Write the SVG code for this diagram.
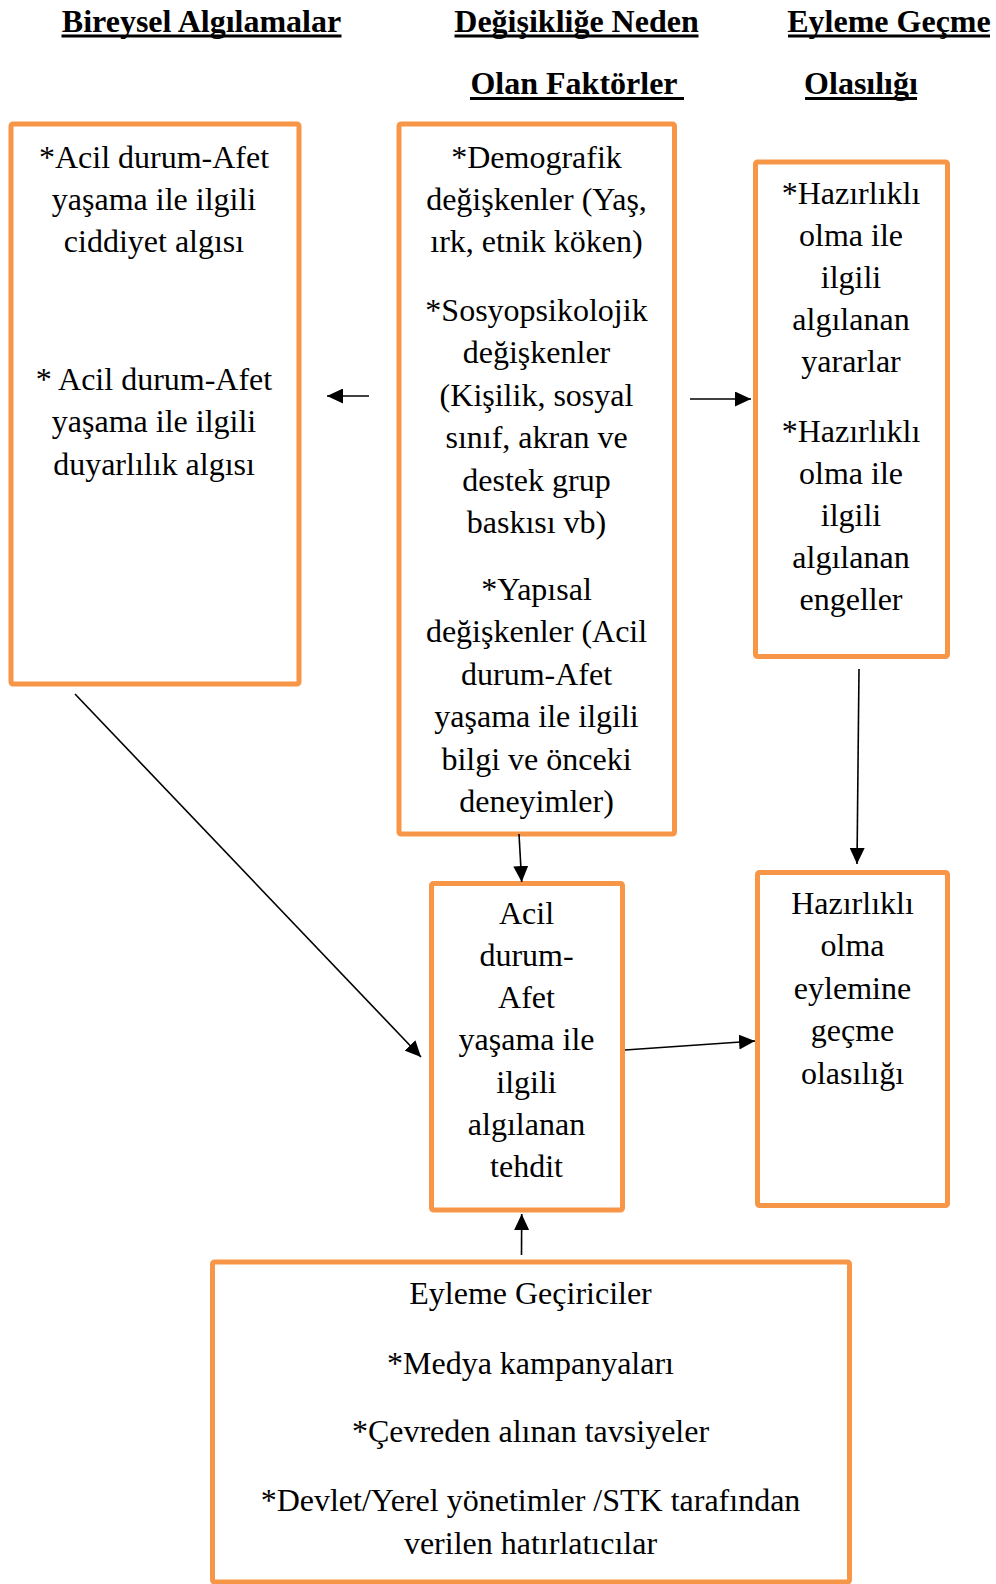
<svg xmlns="http://www.w3.org/2000/svg" width="996" height="1584" viewBox="0 0 996 1584">
  <style>
    .box { fill: #ffffff; stroke: #F79646; stroke-width: 5; }
    .t { font-family: "Liberation Serif", "Times New Roman", serif; font-size: 32px; fill: #000000; text-anchor: middle; }
    .h { font-family: "Liberation Serif", "Times New Roman", serif; font-size: 32px; font-weight: bold; fill: #000000; text-anchor: middle; }
    .ul { fill: #000000; }
    .conn { stroke: #000000; stroke-width: 1.6; fill: none; marker-end: url(#arrow); }
  </style>
  <defs>
    <marker id="arrow" markerUnits="userSpaceOnUse" markerWidth="16" markerHeight="15" refX="16" refY="7.5" orient="auto">
      <path d="M0,0 L16,7.5 L0,15 Z" fill="#000000"/>
    </marker>
  </defs>
  <rect width="996" height="1584" fill="#ffffff"/>

  <!-- column headings -->
  <g id="headings">
    <text class="h" x="201.5" y="31.5">Bireysel Algılamalar</text>
    <rect class="ul" x="61.5" y="34.5" width="280" height="3"/>
    <text class="h" x="576.5" y="31.5">Değişikliğe Neden</text>
    <rect class="ul" x="454.5" y="34.5" width="244" height="3"/>
    <text class="h" x="889" y="31.5">Eyleme Geçme</text>
    <rect class="ul" x="788" y="34.5" width="202" height="3"/>
    <text class="h" x="574" y="94">Olan Faktörler</text>
    <rect class="ul" x="470" y="97" width="214" height="3"/>
    <text class="h" x="861" y="94">Olasılığı</text>
    <rect class="ul" x="805" y="97" width="112" height="3"/>
  </g>

  <!-- individual perceptions -->
  <g id="node-perceptions">
    <rect class="box" x="11" y="124" width="288" height="560" rx="2"/>
    <text class="t" x="154" y="168">*Acil durum-Afet</text>
    <text class="t" x="154" y="210">yaşama ile ilgili</text>
    <text class="t" x="154" y="252">ciddiyet algısı</text>
    <text class="t" x="154" y="390">* Acil durum-Afet</text>
    <text class="t" x="154" y="432">yaşama ile ilgili</text>
    <text class="t" x="154" y="475">duyarlılık algısı</text>
  </g>

  <!-- modifying factors -->
  <g id="node-factors">
    <rect class="box" x="399" y="124" width="275.5" height="710" rx="2"/>
    <text class="t" x="536.5" y="168">*Demografik</text>
    <text class="t" x="536.5" y="210">değişkenler (Yaş,</text>
    <text class="t" x="536.5" y="252">ırk, etnik köken)</text>
    <text class="t" x="536.5" y="321">*Sosyopsikolojik</text>
    <text class="t" x="536.5" y="363.4">değişkenler</text>
    <text class="t" x="536.5" y="405.8">(Kişilik, sosyal</text>
    <text class="t" x="536.5" y="448.2">sınıf, akran ve</text>
    <text class="t" x="536.5" y="490.6">destek grup</text>
    <text class="t" x="536.5" y="533">baskısı vb)</text>
    <text class="t" x="536.5" y="600">*Yapısal</text>
    <text class="t" x="536.5" y="642.4">değişkenler (Acil</text>
    <text class="t" x="536.5" y="684.8">durum-Afet</text>
    <text class="t" x="536.5" y="727.2">yaşama ile ilgili</text>
    <text class="t" x="536.5" y="769.6">bilgi ve önceki</text>
    <text class="t" x="536.5" y="812">deneyimler)</text>
  </g>

  <!-- perceived benefits and barriers -->
  <g id="node-benefits">
    <rect class="box" x="755.5" y="162" width="192" height="494.5" rx="2"/>
    <text class="t" x="851" y="204">*Hazırlıklı</text>
    <text class="t" x="851" y="246">olma ile</text>
    <text class="t" x="851" y="288">ilgili</text>
    <text class="t" x="851" y="330">algılanan</text>
    <text class="t" x="851" y="372">yararlar</text>
    <text class="t" x="851" y="442">*Hazırlıklı</text>
    <text class="t" x="851" y="484">olma ile</text>
    <text class="t" x="851" y="526">ilgili</text>
    <text class="t" x="851" y="568">algılanan</text>
    <text class="t" x="851" y="610">engeller</text>
  </g>

  <!-- perceived threat -->
  <g id="node-threat">
    <rect class="box" x="431.5" y="883.5" width="191" height="326.5" rx="2"/>
    <text class="t" x="526.5" y="923.5">Acil</text>
    <text class="t" x="526.5" y="965.8">durum-</text>
    <text class="t" x="526.5" y="1008.1">Afet</text>
    <text class="t" x="526.5" y="1050.4">yaşama ile</text>
    <text class="t" x="526.5" y="1092.7">ilgili</text>
    <text class="t" x="526.5" y="1135">algılanan</text>
    <text class="t" x="526.5" y="1177.3">tehdit</text>
  </g>

  <!-- likelihood of action -->
  <g id="node-likelihood">
    <rect class="box" x="757.5" y="872.5" width="190" height="333" rx="2"/>
    <text class="t" x="852.5" y="914">Hazırlıklı</text>
    <text class="t" x="852.5" y="956.4">olma</text>
    <text class="t" x="852.5" y="998.8">eylemine</text>
    <text class="t" x="852.5" y="1041.2">geçme</text>
    <text class="t" x="852.5" y="1083.6">olasılığı</text>
  </g>

  <!-- cues to action -->
  <g id="node-cues">
    <rect class="box" x="212.5" y="1262" width="637" height="320" rx="2"/>
    <text class="t" x="530.5" y="1304">Eyleme Geçiriciler</text>
    <text class="t" x="530.5" y="1373.5">*Medya kampanyaları</text>
    <text class="t" x="530.5" y="1442.3">*Çevreden alınan tavsiyeler</text>
    <text class="t" x="530.5" y="1511">*Devlet/Yerel yönetimler /STK tarafından</text>
    <text class="t" x="530.5" y="1553.5">verilen hatırlatıcılar</text>
  </g>

  <!-- connectors -->
  <g id="connectors">
    <line class="conn" x1="369" y1="396" x2="327" y2="396"/>
    <line class="conn" x1="690" y1="399" x2="751" y2="399"/>
    <line class="conn" x1="519" y1="834" x2="521.7" y2="882"/>
    <line class="conn" x1="859" y1="669" x2="857" y2="864"/>
    <line class="conn" x1="75" y1="694" x2="421" y2="1057"/>
    <line class="conn" x1="625" y1="1050" x2="755" y2="1041"/>
    <line class="conn" x1="521.5" y1="1255" x2="521.7" y2="1214"/>
  </g>
</svg>
